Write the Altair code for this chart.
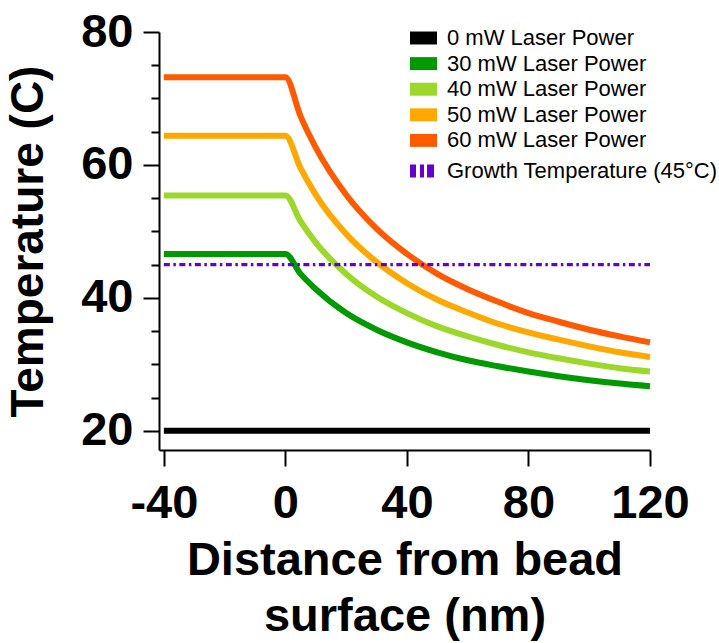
import altair as alt
import pandas as pd

# ---- data ----
distance = [-40, 0, 5, 10, 20, 30, 40, 50, 60, 70, 80, 90, 100, 110, 120]
series_names = ["\u20070 mW Laser Power", "30 mW Laser Power", "40 mW Laser Power",
                "50 mW Laser Power", "60 mW Laser Power"]
series_colors = ["#000000", "#009a00", "#9bd82a", "#ffa800", "#ff5a00"]
temp_0 = [20.0, 20.0, 20.0, 20.0, 20.0, 20.0, 20.0, 20.0, 20.0, 20.0, 20.0, 20.0, 20.0, 20.0, 20.0]
temp_30 = [46.6, 46.6, 43.6, 41.3, 37.7, 35.2, 33.3, 31.8, 30.6, 29.7, 28.9, 28.2, 27.6, 27.1, 26.7]
temp_40 = [55.4, 55.4, 51.5, 48.3, 43.6, 40.2, 37.7, 35.7, 34.2, 32.9, 31.8, 30.9, 30.1, 29.4, 28.9]
temp_50 = [64.4, 64.4, 59.5, 55.5, 49.6, 45.4, 42.2, 39.7, 37.8, 36.1, 34.8, 33.7, 32.7, 31.8, 31.1]
temp_60 = [73.2, 73.2, 67.3, 62.6, 55.5, 50.4, 46.6, 43.6, 41.3, 39.4, 37.7, 36.4, 35.2, 34.2, 33.3]
growth_label = "Growth Temperature (45\u00b0C)"
growth_temp = [45]
growth_start = [-40]
growth_end = [120]
x_ticks = [-40, 0, 40, 80, 120]
y_ticks = [20, 25, 30, 35, 40, 45, 50, 55, 60, 65, 70, 75, 80]

rows = []
for name, vals in zip(series_names, [temp_0, temp_30, temp_40, temp_50, temp_60]):
    for d, t in zip(distance, vals):
        rows.append({"distance": d, "temp": t, "series": name})
df = pd.DataFrame(rows)
growth_df = pd.DataFrame({"y": growth_temp, "x": growth_start, "x2": growth_end,
                          "g": [growth_label]})

FONT = "Liberation Sans"
PURPLE = "#6600cc"
RECT_SYMBOL = "M-1,-0.48H1V0.48H-1Z"
DASH_SYMBOL = ("M-1,-0.54H-0.5V0.54H-1Z M-0.17,-0.54H0.17V0.54H-0.17Z "
               "M0.42,-0.54H1V0.54H0.42Z")

x_scale = alt.Scale(domain=[-41.6, 120], nice=False, zero=False)
y_scale = alt.Scale(domain=[17.1, 80], nice=False, zero=False)
color_scale = alt.Scale(domain=series_names, range=series_colors)

x_axis = alt.Axis(values=x_ticks, labelExpr="'' + datum.value",
                  tickSize=16, tickWidth=2, domainWidth=2,
                  domainColor="black", tickColor="black", labelColor="black",
                  labelFont=FONT, labelFontSize=47, labelFontWeight="bold",
                  labelPadding=14, labelFlush=False, labelOverlap=False,
                  title=["Distance from bead", "surface (nm)"], titleFont=FONT,
                  titleFontSize=47, titleFontWeight="bold", titleColor="black",
                  titleLineHeight=56, titlePadding=11, grid=False)
y_axis = alt.Axis(values=y_ticks,
                  labelExpr="datum.value % 20 == 0 ? datum.label : ''",
                  tickSize={"condition": {"test": "datum.value % 20 == 0", "value": 16}, "value": 8},
                  tickWidth=2, domainWidth=2, domainColor="black", tickColor="black",
                  labelColor="black", labelFont=FONT, labelFontSize=47,
                  labelFontWeight="bold", labelPadding=10, labelOverlap=False,
                  title="Temperature (C)", titleFont=FONT, titleFontSize=46,
                  titleFontWeight="bold", titleColor="black", titlePadding=28, grid=False)

lines = alt.Chart(df).mark_line(strokeWidth=6, interpolate="monotone", strokeCap="butt").encode(
    x=alt.X("distance:Q", scale=x_scale, axis=x_axis),
    y=alt.Y("temp:Q", scale=y_scale, axis=y_axis),
    color=alt.Color("series:N", scale=color_scale, legend=None),
    order=alt.Order("distance:Q"),
)

# zero-size filled squares: only there to give the legend filled colour boxes
keys = alt.Chart(df).mark_square(size=0, strokeWidth=0, opacity=1).encode(
    x=alt.X("distance:Q", scale=x_scale, axis=x_axis),
    y=alt.Y("temp:Q", scale=y_scale, axis=y_axis),
    color=alt.Color("series:N", scale=color_scale,
                    legend=alt.Legend(title=None, orient="none", legendX=251, legendY=-7.5,
                                      symbolType=RECT_SYMBOL, symbolSize=729,
                                      symbolStrokeWidth=0, symbolOpacity=1, labelFont=FONT,
                                      labelFontSize=22, labelColor="black",
                                      labelOffset=10, rowPadding=0.6, labelLimit=400)),
)

rule = alt.Chart(growth_df).mark_rule(strokeWidth=3.2, strokeDash=[6, 3.5, 2.5, 3.5],
                                      strokeCap="butt").encode(
    x=alt.X("x:Q", scale=x_scale, axis=x_axis),
    x2="x2:Q",
    y=alt.Y("y:Q", scale=y_scale, axis=y_axis),
    color=alt.Color("g:N",
                    scale=alt.Scale(domain=[growth_label], range=[PURPLE]),
                    legend=alt.Legend(title=None, orient="none", legendX=251, legendY=127,
                                      symbolType=DASH_SYMBOL, symbolSize=576,
                                      symbolStrokeWidth=0, symbolFillColor=PURPLE,
                                      symbolOpacity=1,
                                      labelFont=FONT, labelFontSize=22,
                                      labelColor="black", labelOffset=13,
                                      labelLimit=400)),
)

chart = alt.layer(lines, keys, rule).resolve_scale(color="independent").properties(
    width=491, height=418,
    autosize=alt.AutoSizeParams(type="none"),
    padding={"left": 159, "top": 32, "right": 69, "bottom": 193},
    background="white",
).configure_view(strokeWidth=0)

chart.save("out.html", embed_options={"renderer": "svg", "actions": False})
